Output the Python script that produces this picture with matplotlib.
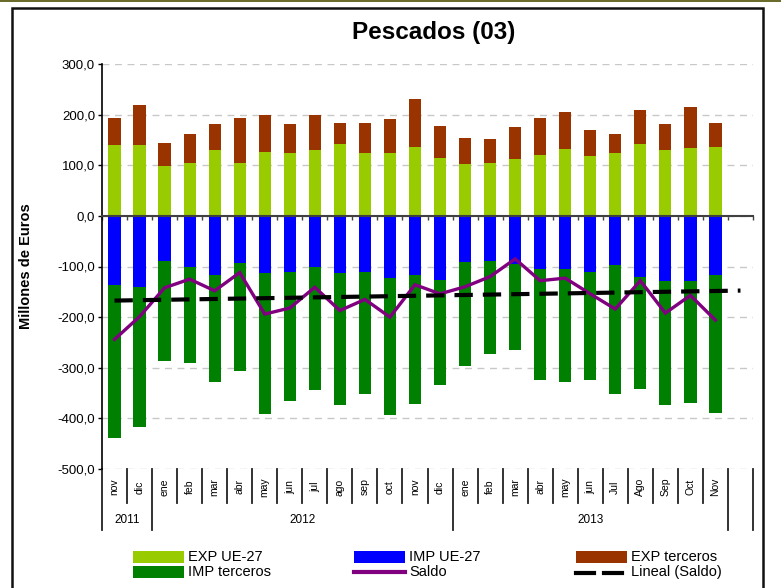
import numpy as np
import matplotlib
matplotlib.use('Agg')
import matplotlib.pyplot as plt
from matplotlib.patches import Rectangle
from matplotlib.lines import Line2D
from matplotlib.ticker import FuncFormatter, MultipleLocator

FONT = ['Liberation Sans', 'DejaVu Sans']

# months nov 2011 .. Nov 2013
months = ['nov', 'dic',
          'ene', 'feb', 'mar', 'abr', 'may', 'jun', 'jul', 'ago', 'sep', 'oct', 'nov', 'dic',
          'ene', 'feb', 'mar', 'abr', 'may', 'jun', 'Jul', 'Ago', 'Sep', 'Oct', 'Nov']
years = ['2011', '2012', '2013']
year_counts = [2, 12, 11]

# Millones de euros
exp_ue27 = [140, 140, 98, 104, 130, 104, 126, 124, 130, 142, 124, 124, 136,
            114, 102, 104, 112, 120, 132, 118, 124, 142, 130, 134, 136]
exp_terceros = [53, 79, 46, 58, 51, 89, 73, 57, 69, 41, 59, 67, 95,
                63, 52, 48, 64, 73, 73, 52, 38, 67, 51, 81, 47]
imp_ue27 = [-136, -140, -90, -100, -116, -94, -112, -110, -100, -112, -110, -122, -116,
            -126, -92, -90, -95, -104, -104, -110, -98, -120, -128, -128, -116]
imp_terceros = [-302, -278, -197, -191, -213, -213, -280, -256, -243, -262, -241, -272, -256,
                -209, -205, -182, -169, -221, -225, -215, -253, -221, -246, -242, -274]
saldo = [-244, -199, -142, -125, -148, -112, -194, -182, -141, -187, -165, -200, -136,
         -154, -140, -120, -85, -128, -123, -154, -184, -128, -192, -157, -206]

C_EXP_UE = '#99CC00'
C_EXP_TER = '#993300'
C_IMP_UE = '#0000FF'
C_IMP_TER = '#008000'
C_SALDO = '#800080'

W, H = 781, 588
fig = plt.figure(figsize=(W / 100, H / 100), dpi=100)

# outer frame like the source report
fig.patches.append(Rectangle((0, 1 - 2 / H), 1, 2 / H, transform=fig.transFigure,
                             facecolor='#6b6b2b', edgecolor='none'))
fig.patches.append(Rectangle((12 / W, -0.05), (763 - 12) / W, (588 - 8) / H + 0.05,
                             transform=fig.transFigure, facecolor='none',
                             edgecolor='#111111', linewidth=1.8))

ax_left, ax_right, ax_top, ax_bot = 102, 753, 64, 469
ax = fig.add_axes([ax_left / W, 1 - ax_bot / H, (ax_right - ax_left) / W, (ax_bot - ax_top) / H])

n = len(months)
x = np.arange(n)
bw = 0.49

ax.bar(x, exp_ue27, bw, color=C_EXP_UE, zorder=2)
ax.bar(x, exp_terceros, bw, bottom=exp_ue27, color=C_EXP_TER, zorder=2)
ax.bar(x, imp_ue27, bw, color=C_IMP_UE, zorder=2)
ax.bar(x, imp_terceros, bw, bottom=imp_ue27, color=C_IMP_TER, zorder=2)

ax.plot(x, saldo, color=C_SALDO, lw=2.4, zorder=4, solid_joinstyle='miter')

# linear trend of saldo, projected one period forward
coef = np.polyfit(x, saldo, 1)
xt = np.arange(n + 1)
ax.plot(xt, np.polyval(coef, xt), color='black', lw=3, dashes=(4.4, 2.4), zorder=5)

ax.set_xlim(-0.5, n + 0.5)
ax.set_ylim(-500, 300)
ax.yaxis.set_major_locator(MultipleLocator(100))
ax.yaxis.set_major_formatter(FuncFormatter(lambda v, p: f'{v:.1f}'.replace('.', ',')))
ax.grid(axis='y', color='#c8c8c8', linestyle=(0, (5, 4)), linewidth=1, zorder=0)
ax.set_axisbelow(True)

for s in ['top', 'right']:
    ax.spines[s].set_visible(False)
ax.spines['bottom'].set_position(('data', 0))
ax.spines['bottom'].set_color('#404040')
ax.spines['bottom'].set_linewidth(1.5)
ax.spines['bottom'].set_zorder(3)
ax.spines['left'].set_color('black')
ax.spines['left'].set_linewidth(1.2)
ax.set_xticks(np.arange(-0.5, n + 1, 1))
ax.tick_params(axis='x', length=3, width=1, color='#404040', labelbottom=False)
ax.tick_params(axis='y', length=3, width=1, pad=2, labelsize=9.5)
for lab in ax.get_yticklabels():
    lab.set_family(FONT)

ax.set_ylabel('Millones de Euros', family=FONT, fontweight='bold', fontsize=10.5)
ax.yaxis.set_label_coords(-(ax_left - 33) / (ax_right - ax_left), 0.5)

fig.text(434 / W, 1 - 33 / H, 'Pescados (03)', family=FONT, fontweight='bold',
         fontsize=17.5, ha='center', va='center')

# category table below the plot
tr = ax.get_xaxis_transform()
axh = ax_bot - ax_top
def yfrac(py):
    return -(py - ax_bot) / axh

for i, m in enumerate(months):
    ax.text(i, yfrac(487), m, transform=tr, rotation=90, ha='center', va='center',
            family=FONT, fontsize=7.5)
bounds = np.cumsum([0] + year_counts)
for b in range(n + 2):
    xb = b - 0.5
    long_line = (b in bounds) or b >= n
    ybot = 530 if long_line else 503
    ax.add_line(Line2D([xb, xb], [yfrac(ax_bot), yfrac(ybot)], transform=tr,
                       color='#222222', lw=1.3, clip_on=False))
for yname, a, b in zip(years, bounds[:-1], bounds[1:]):
    ax.text((a + b - 1) / 2, yfrac(520), yname, transform=tr, ha='center', va='center',
            family=FONT, fontsize=8.5)

# legend, three columns
def fy(py):
    return 1 - py / H

entries = [
    ('patch', C_EXP_UE, 'EXP UE-27', 133, 557),
    ('patch', C_IMP_TER, 'IMP terceros', 133, 572),
    ('patch', C_IMP_UE, 'IMP UE-27', 354, 557),
    ('line', C_SALDO, 'Saldo', 354, 572),
    ('patch', C_EXP_TER, 'EXP terceros', 576, 557),
    ('dash', 'black', 'Lineal (Saldo)', 576, 572),
]
for kind, col, label, px, py in entries:
    if kind == 'patch':
        fig.patches.append(Rectangle((px / W, fy(py + 6)), 51 / W, 12 / H,
                                     transform=fig.transFigure, facecolor=col, edgecolor='none'))
    elif kind == 'line':
        fig.lines.append(Line2D([px / W, (px + 51) / W], [fy(py), fy(py)],
                                transform=fig.transFigure, color=col, lw=3))
    else:
        for d0 in (0, 28):
            fig.lines.append(Line2D([(px + d0) / W, (px + d0 + 18) / W], [fy(py + 1), fy(py + 1)],
                                    transform=fig.transFigure, color=col, lw=3))
    fig.text((px + 55) / W, fy(py), label, family=FONT, fontsize=10.5, va='center', ha='left')

fig.savefig('out.png', dpi=100)
